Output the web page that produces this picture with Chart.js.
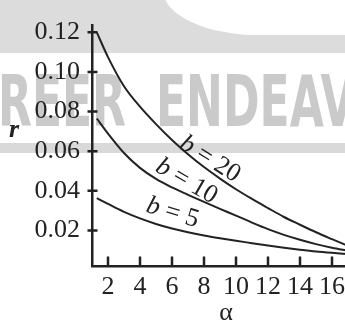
<!DOCTYPE html>
<html lang="en">
<head>
    <meta charset="UTF-8">
    <title>r vs alpha</title>
    <script src="https://cdn.jsdelivr.net/npm/chart.js"></script>
    <style>
        body {
            margin: 0;
            width: 345px;
            height: 320px;
            overflow: hidden;
            background: #fff;
            position: relative;
        }
        .band { position: absolute; left: 0; width: 345px; background: #dcdcdc; }
        .top-band { top: 0; height: 53px; }
        .mid-band { top: 143px; height: 10px; background: #d9d9d9; }
        .top-cut {
            position: absolute;
            left: 163px;
            top: -10px;
            width: 200px;
            height: 45px;
            background: #fff;
            border-bottom-left-radius: 95px 45px;
        }
        .wm {
            position: absolute;
            top: 65px;
            font-family: "DejaVu Sans Condensed", "DejaVu Sans", sans-serif;
            font-weight: bold;
            font-size: 72px;
            line-height: 72px;
            color: #cacaca;
            white-space: nowrap;
            transform: scaleX(0.68);
            transform-origin: left top;
        }
        .chart-box {
            position: absolute;
            left: 0;
            top: 0;
            width: 360px;
            height: 320px;
        }
    </style>
</head>
<body>
<div class="band top-band"></div>
<div class="top-cut"></div>
<div class="band mid-band"></div>
<div class="wm" style="left:-2px">REER</div>
<div class="wm" style="left:156px">ENDEAV</div>

<div class="chart-box">
    <canvas id="grafico" width="360" height="320"></canvas>
</div>

<script>
    // values
    const alphaValues = [1.3, 2, 3, 4, 5, 6, 7, 8, 9, 10, 11, 12, 13, 14, 15, 16, 17];
    const rB20 = [0.1200, 0.1075, 0.0928, 0.0825, 0.0737, 0.0657, 0.0585, 0.0520, 0.0462, 0.0408,
                  0.0359, 0.0313, 0.0268, 0.0229, 0.0191, 0.0156, 0.0122];
    const rB10 = [0.0765, 0.0689, 0.0591, 0.0516, 0.0460, 0.0417, 0.0380, 0.0344, 0.0309, 0.0275,
                  0.0240, 0.0207, 0.0178, 0.0153, 0.0131, 0.0113, 0.0098];
    const rB5  = [0.0363, 0.0334, 0.0294, 0.0261, 0.0233, 0.0210, 0.0191, 0.0175, 0.0161, 0.0148,
                  0.0136, 0.0124, 0.0113, 0.0103, 0.0094, 0.0087, 0.0081];
    const bValues = [20, 10, 5];
    const xTicks = [2, 4, 6, 8, 10, 12, 14, 16];
    const yTicks = [0.02, 0.04, 0.06, 0.08, 0.10, 0.12];

    const ink = '#222';
    const serif = '"Liberation Serif", "Times New Roman", serif';

    function puntos(serie) {
        return alphaValues.map((a, i) => ({ x: a, y: serie[i] }));
    }

    // tick marks crossing the y axis and standing inside the x axis
    const marcas = {
        id: 'marcas',
        afterDraw(chart) {
            const ctx = chart.ctx;
            const xs = chart.scales.x, ys = chart.scales.y;
            const area = chart.chartArea;
            ctx.save();
            ctx.strokeStyle = ink;
            ctx.lineWidth = 2.5;
            ctx.beginPath();
            yTicks.forEach(v => {
                const py = ys.getPixelForValue(v);
                ctx.moveTo(area.left - 4.5, py);
                ctx.lineTo(area.left + 5.5, py);
            });
            xTicks.forEach(v => {
                const px = xs.getPixelForValue(v);
                ctx.moveTo(px, area.bottom);
                ctx.lineTo(px, area.bottom - 9.5);
            });
            ctx.stroke();

            // y axis title, upright
            ctx.fillStyle = ink;
            ctx.font = 'italic bold 26px ' + serif;
            ctx.textAlign = 'left';
            ctx.textBaseline = 'alphabetic';
            ctx.fillText('r', 9, 137);

            // curve labels
            const etiquetas = [
                { a: 8.14, r: 0.0530, ang: 32 },
                { a: 6.69, r: 0.0418, ang: 30 },
                { a: 5.91, r: 0.0256, ang: 17 }
            ];
            etiquetas.forEach((e, i) => {
                const rest = ' = ' + bValues[i];
                ctx.save();
                ctx.translate(xs.getPixelForValue(e.a), ys.getPixelForValue(e.r));
                ctx.rotate(e.ang * Math.PI / 180);
                ctx.font = 'italic 26px ' + serif;
                const wb = ctx.measureText('b').width;
                ctx.font = '26px ' + serif;
                const wr = ctx.measureText(rest).width;
                const x0 = -(wb + wr) / 2;
                ctx.font = 'italic 26px ' + serif;
                ctx.fillText('b', x0, 0);
                ctx.font = '26px ' + serif;
                ctx.fillText(rest, x0 + wb, 0);
                ctx.restore();
            });
            ctx.restore();
        }
    };

    const linea = { borderColor: ink, borderWidth: 2, pointRadius: 0, cubicInterpolationMode: 'monotone', fill: false };

    const ctx = document.getElementById('grafico').getContext('2d');
    const chart = new Chart(ctx, {
        type: 'line',
        data: {
            datasets: [
                Object.assign({ label: 'b = 20', data: puntos(rB20) }, linea),
                Object.assign({ label: 'b = 10', data: puntos(rB10) }, linea),
                Object.assign({ label: 'b = 5', data: puntos(rB5) }, linea)
            ]
        },
        options: {
            responsive: false,
            animation: false,
            devicePixelRatio: 1,
            layout: { padding: { top: 13, right: 0, bottom: 0, left: 0 } },
            plugins: { legend: { display: false }, tooltip: { enabled: false } },
            scales: {
                x: {
                    type: 'linear',
                    min: 1,
                    max: 17.75,
                    afterBuildTicks: s => { s.ticks = xTicks.map(v => ({ value: v })); },
                    afterFit: s => { s.height = 54; },
                    grid: { display: false, drawTicks: false },
                    border: { display: true, color: ink, width: 2.5 },
                    ticks: {
                        color: ink,
                        padding: 8,
                        maxRotation: 0,
                        autoSkip: false,
                        font: { family: serif, size: 26, lineHeight: 1 },
                        callback: v => String(v)
                    },
                    title: {
                        display: true,
                        text: 'α',
                        color: ink,
                        padding: { top: 0, bottom: 0 },
                        font: { family: serif, size: 26, lineHeight: 0.5 }
                    }
                },
                y: {
                    min: 0.00207,
                    max: 0.1237,
                    afterBuildTicks: s => { s.ticks = yTicks.map(v => ({ value: v })); },
                    afterFit: s => { s.width = 92; },
                    grid: { display: false, drawTicks: false },
                    border: { display: true, color: ink, width: 2.5 },
                    ticks: {
                        color: ink,
                        padding: 12,
                        autoSkip: false,
                        font: { family: serif, size: 26, lineHeight: 1 },
                        callback: v => v.toFixed(2)
                    }
                }
            }
        },
        plugins: [marcas]
    });
</script>
</body>
</html>
